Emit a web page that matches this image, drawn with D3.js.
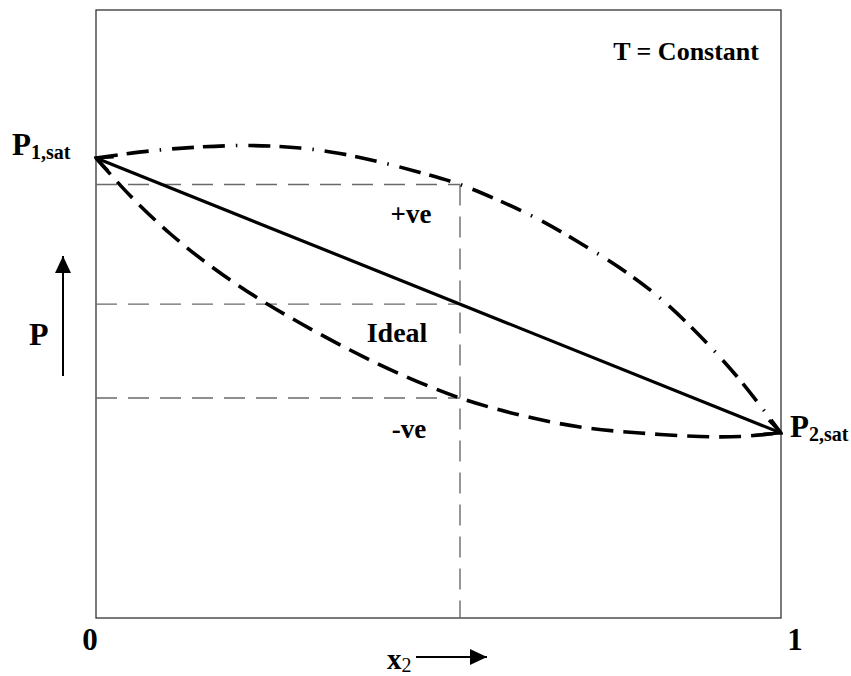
<!DOCTYPE html>
<html><head><meta charset="utf-8">
<script src="https://cdn.jsdelivr.net/npm/d3@7"></script>
<style>body{margin:0;background:#fff}svg text{font-family:"Liberation Serif","Times New Roman",serif;font-weight:bold;fill:#000}</style>
</head><body><svg id="c" width="851" height="676"></svg>
<script>
// Data (x2 mole fraction, P in arbitrary units 0..100)
const xTicks = [0, 1];
const P1sat = 75.66, P2sat = 30.43;
const idealLine = [[0, P1sat], [1, P2sat]];
const positiveDev = [[0,75.66],[0.0788,76.81],[0.1518,77.47],[0.2248,77.71],[0.2978,77.30],[0.3562,76.40],[0.4146,75.00],[0.4730,73.27],[0.5314,71.30],[0.5898,68.59],[0.6482,65.46],[0.7066,61.68],[0.7650,57.57],[0.8234,52.63],[0.8818,46.38],[0.9401,39.14],[1,30.43]];
const negativeDev = [[0,75.66],[0.0496,69.49],[0.1080,63.24],[0.1664,57.98],[0.2336,52.80],[0.2978,48.52],[0.3708,44.08],[0.4438,40.13],[0.5314,36.18],[0.6190,33.39],[0.7066,31.41],[0.7942,30.43],[0.8818,29.85],[0.9401,29.85],[1,30.43]];
const xMark = 0.5314;
const guideLevels = [71.30, 51.62, 36.18];

const svg = d3.select("#c");
const L = 96, R = 781, T = 10, B = 618;
const x = d3.scaleLinear().domain([0, 1]).range([L, R]);
const y = d3.scaleLinear().domain([0, 100]).range([B, T]);

const defs = svg.append("defs");
defs.append("marker").attr("id","openArrow").attr("markerUnits","userSpaceOnUse")
  .attr("viewBox","-20 -10 22 20").attr("refX",0).attr("refY",0)
  .attr("markerWidth",22).attr("markerHeight",20).attr("orient","auto-start-reverse")
  .append("path").attr("d","M-16,-7.5L0,0L-16,7.5").attr("fill","none").attr("stroke","#000").attr("stroke-width",3.2);
defs.append("marker").attr("id","solidArrow").attr("markerUnits","userSpaceOnUse")
  .attr("viewBox","-18 -10 20 20").attr("refX",0).attr("refY",0)
  .attr("markerWidth",20).attr("markerHeight",20).attr("orient","auto")
  .append("path").attr("d","M-17,-8L0,0L-17,8Z").attr("fill","#000");

// frame
svg.append("rect").attr("x",x(0)).attr("y",y(100)).attr("width",x(1)-x(0)).attr("height",y(0)-y(100))
  .attr("fill","none").attr("stroke","#333").attr("stroke-width",1.3);

// guide lines
const gcol = "#6a6a6a";
svg.selectAll("line.g").data(guideLevels).enter().append("line")
  .attr("x1",x(0)).attr("x2",x(xMark)).attr("y1",d=>y(d)).attr("y2",d=>y(d))
  .attr("stroke",gcol).attr("stroke-width",1.4).attr("stroke-dasharray","21,11");
svg.append("line").attr("x1",x(xMark)).attr("x2",x(xMark)).attr("y1",y(guideLevels[0])).attr("y2",y(0))
  .attr("stroke",gcol).attr("stroke-width",1.4).attr("stroke-dasharray","21,11");

const line = d3.line().x(d=>x(d[0])).y(d=>y(d[1])).curve(d3.curveCatmullRom.alpha(0.5));
svg.append("path").attr("d",line(positiveDev)).attr("fill","none").attr("stroke","#000")
  .attr("stroke-width",3.6).attr("stroke-dasharray","22,9,22,11,1.5,11");
svg.append("path").attr("d",line(negativeDev)).attr("fill","none").attr("stroke","#000")
  .attr("stroke-width",3.6).attr("stroke-dasharray","22,10");
svg.append("path").attr("d",d3.line().x(d=>x(d[0])).y(d=>y(d[1]))(idealLine)).attr("fill","none")
  .attr("stroke","#000").attr("stroke-width",3.2).attr("marker-start","url(#openArrow)").attr("marker-end","url(#openArrow)");

// tick labels
svg.selectAll("text.tk").data(xTicks).enter().append("text")
  .attr("x",d=>x(d)+(d===0?-6:14)).attr("y",650).attr("text-anchor","middle")
  .attr("font-size",31).text(d=>d);

// x2 label + arrow
const xl = svg.append("text").attr("x",387).attr("y",669).attr("font-size",29);
xl.append("tspan").text("x");
xl.append("tspan").attr("font-size",20).attr("font-weight","normal").attr("dy",3).text("2");
svg.append("line").attr("x1",416).attr("x2",487).attr("y1",657).attr("y2",657)
  .attr("stroke","#000").attr("stroke-width",2).attr("marker-end","url(#solidArrow)");

// P label + arrow
svg.append("text").attr("x",29).attr("y",345).attr("font-size",32).text("P");
svg.append("line").attr("x1",63).attr("x2",63).attr("y1",376).attr("y2",256)
  .attr("stroke","#000").attr("stroke-width",2).attr("marker-end","url(#solidArrow)");

// P1,sat, P2,sat
const p1 = svg.append("text").attr("x",12).attr("y",y(P1sat)-3).attr("font-size",31);
p1.append("tspan").text("P");
p1.append("tspan").attr("font-size",20).attr("dy",4).text("1,sat");
const p2 = svg.append("text").attr("x",790).attr("y",y(P2sat)+4).attr("font-size",31);
p2.append("tspan").text("P");
p2.append("tspan").attr("font-size",20).attr("dy",4).text("2,sat");

// annotations
svg.append("text").attr("x",759).attr("y",60).attr("text-anchor","end").attr("font-size",26).text("T = Constant");
svg.append("text").attr("x",411).attr("y",223).attr("text-anchor","middle").attr("font-size",27).text("+ve");
svg.append("text").attr("x",397).attr("y",342).attr("text-anchor","middle").attr("font-size",28).text("Ideal");
svg.append("text").attr("x",409).attr("y",438).attr("text-anchor","middle").attr("font-size",27).text("-ve");
</script></body></html>
